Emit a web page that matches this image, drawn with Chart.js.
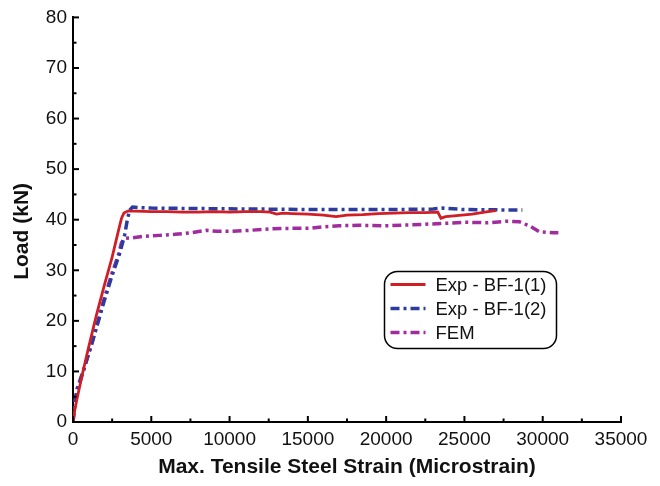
<!DOCTYPE html>
<html>
<head>
<meta charset="utf-8">
<script src="https://cdn.jsdelivr.net/npm/chart.js@4.4.0/dist/chart.umd.min.js"></script>
<style>
  html, body { margin: 0; padding: 0; background: #fff; }
  #wrap { width: 660px; height: 486px; }
</style>
</head>
<body>
<div id="wrap"><canvas id="c" width="660" height="486"></canvas></div>
<script>
// Load vs. maximum tensile steel strain, beam BF-1
const seriesNames = ['Exp - BF-1(1)', 'Exp - BF-1(2)', 'FEM'];

const exp1Strain = [0, 120, 250, 600, 1000, 1500, 2000, 2500, 2900, 3100, 3250, 3500, 4000, 5000, 6000, 7000, 8000, 9000, 10000, 11000, 12000, 12600, 13000, 13400, 14000, 15000, 16000, 16800, 17500, 18500, 19500, 20500, 21500, 22500, 23300, 23500, 23800, 24500, 25500, 26500, 27000];
const exp1Load   = [0, 2.5, 4.5, 9.5, 14.8, 21.2, 27.0, 32.6, 37.8, 40.3, 41.3, 41.7, 41.7, 41.6, 41.6, 41.5, 41.5, 41.6, 41.5, 41.6, 41.6, 41.5, 41.1, 41.3, 41.2, 41.1, 40.9, 40.6, 40.9, 41.0, 41.2, 41.3, 41.4, 41.4, 41.5, 40.3, 40.6, 40.8, 41.1, 41.6, 41.8];

const exp2Strain = [0, 100, 250, 700, 1250, 2000, 2500, 3000, 3300, 3500, 3650, 3800, 4200, 5000, 8000, 12000, 16000, 20000, 23000, 23600, 25000, 28700];
const exp2Load   = [0, 3.0, 6.0, 10.5, 16.0, 24.0, 29.0, 33.5, 37.0, 40.5, 42.0, 42.5, 42.4, 42.3, 42.2, 42.1, 42.0, 42.0, 42.1, 42.3, 42.0, 41.9];

const femStrain = [0, 100, 250, 700, 1250, 2000, 2500, 2900, 3100, 3300, 3700, 4500, 5500, 6500, 7500, 8500, 9200, 10000, 11300, 12600, 14000, 15100, 16000, 17000, 18300, 19800, 21000, 22500, 23900, 25000, 26500, 27700, 28500, 29200, 29800, 30700, 31000];
const femLoad   = [0, 3.5, 6.5, 10.5, 16.0, 24.5, 29.5, 33.0, 35.5, 36.3, 36.4, 36.7, 36.9, 37.1, 37.4, 37.9, 37.7, 37.7, 37.9, 38.2, 38.3, 38.3, 38.6, 38.8, 38.9, 38.8, 38.9, 39.1, 39.3, 39.5, 39.4, 39.7, 39.6, 38.7, 37.6, 37.4, 37.4];

const xTickValues = [0, 5000, 10000, 15000, 20000, 25000, 30000, 35000];
const yTickValues = [0, 10, 20, 30, 40, 50, 60, 70, 80];

const pairs = (xs, ys) => xs.map((x, i) => ({ x: x, y: ys[i] }));

const FONT = "'Liberation Sans', Arial, Helvetica, sans-serif";

// inward-pointing major and minor tick marks on both axes
const innerTicks = {
  id: 'innerTicks',
  afterDraw(chart) {
    const { ctx, chartArea, scales } = chart;
    const xs = scales.x, ys = scales.y;
    ctx.save();
    ctx.strokeStyle = '#000';
    ctx.lineWidth = 2;
    const xStep = (xTickValues[1] - xTickValues[0]) / 2;
    for (let v = xs.min; v <= xs.max + 1e-6; v += xStep) {
      const px = xs.getPixelForValue(v);
      const major = xTickValues.includes(v);
      const len = major ? 6 : 3.5;
      ctx.beginPath();
      ctx.moveTo(px, chartArea.bottom);
      ctx.lineTo(px, chartArea.bottom - len);
      ctx.stroke();
    }
    const yStep = (yTickValues[1] - yTickValues[0]) / 2;
    for (let v = ys.min; v <= ys.max + 1e-6; v += yStep) {
      const py = ys.getPixelForValue(v);
      const major = yTickValues.includes(v);
      const len = major ? 6 : 3.5;
      ctx.beginPath();
      ctx.moveTo(chartArea.left, py);
      ctx.lineTo(chartArea.left + len, py);
      ctx.stroke();
    }
    ctx.restore();
  }
};

// framed legend with rounded corners inside the plot area
const boxedLegend = {
  id: 'boxedLegend',
  afterDraw(chart) {
    const { ctx } = chart;
    const bx = 384.5, by = 271.5, bw = 172, bh = 77, r = 13;
    ctx.save();
    ctx.fillStyle = '#fff';
    ctx.strokeStyle = '#000';
    ctx.lineWidth = 1.5;
    ctx.beginPath();
    ctx.roundRect(bx, by, bw, bh, r);
    ctx.fill();
    ctx.stroke();
    ctx.font = '18.5px ' + FONT;
    ctx.textBaseline = 'middle';
    ctx.textAlign = 'left';
    chart.data.datasets.forEach((ds, i) => {
      const cy = by + 13 + i * 24;
      ctx.strokeStyle = ds.borderColor;
      ctx.lineWidth = ds.borderWidth;
      ctx.setLineDash(ds.borderDash || []);
      ctx.beginPath();
      ctx.moveTo(bx + 6, cy);
      ctx.lineTo(bx + 41, cy);
      ctx.stroke();
      ctx.setLineDash([]);
      ctx.fillStyle = '#111';
      ctx.fillText(ds.label, bx + 51, cy + 1);
    });
    ctx.restore();
  }
};

new Chart(document.getElementById('c'), {
  type: 'scatter',
  data: {
    datasets: [
      {
        label: seriesNames[0],
        data: pairs(exp1Strain, exp1Load),
        borderColor: 'rgb(208,30,38)',
        backgroundColor: 'rgb(208,30,38)',
        borderWidth: 2.8,
        showLine: true,
        pointRadius: 0,
        tension: 0
      },
      {
        label: seriesNames[1],
        data: pairs(exp2Strain, exp2Load),
        borderColor: 'rgb(44,60,158)',
        backgroundColor: 'rgb(44,60,158)',
        borderWidth: 3.5,
        borderDash: [9, 4, 3, 4],
        showLine: true,
        pointRadius: 0,
        tension: 0
      },
      {
        label: seriesNames[2],
        data: pairs(femStrain, femLoad),
        borderColor: 'rgb(160,44,158)',
        backgroundColor: 'rgb(160,44,158)',
        borderWidth: 3.5,
        borderDash: [9, 4, 3, 4],
        showLine: true,
        pointRadius: 0,
        tension: 0
      }
    ]
  },
  options: {
    responsive: false,
    animation: false,
    devicePixelRatio: 1,
    layout: { padding: { top: 15, right: 39, left: 0, bottom: 0 } },
    plugins: {
      legend: { display: false },
      tooltip: { enabled: false }
    },
    scales: {
      x: {
        type: 'linear',
        min: 0,
        max: 35000,
        afterFit: (s) => { s.height = 64; },
        afterBuildTicks: (s) => { s.ticks = xTickValues.map(v => ({ value: v })); },
        grid: { display: true, drawOnChartArea: false, drawTicks: false },
        border: { display: true, color: '#000', width: 2 },
        ticks: {
          padding: 6,
          color: '#111',
          maxRotation: 0,
          font: { family: FONT, size: 19 },
          callback: (v) => String(v)
        },
        title: {
          display: true,
          text: 'Max. Tensile Steel Strain (Microstrain)',
          color: '#111',
          font: { family: FONT, size: 21, weight: 'bold' },
          padding: { top: 0, bottom: 6 }
        }
      },
      y: {
        type: 'linear',
        min: 0,
        max: 80,
        afterFit: (s) => { s.width = 73; },
        afterBuildTicks: (s) => { s.ticks = yTickValues.map(v => ({ value: v })); },
        grid: { display: true, drawOnChartArea: false, drawTicks: false },
        border: { display: true, color: '#000', width: 2 },
        ticks: {
          padding: 6,
          color: '#111',
          font: { family: FONT, size: 19 },
          callback: (v) => String(v)
        },
        title: {
          display: true,
          text: 'Load (kN)    ',
          color: '#111',
          font: { family: FONT, size: 21, weight: 'bold' },
          padding: { top: 10, bottom: 0 }
        }
      }
    }
  },
  plugins: [innerTicks, boxedLegend]
});
</script>
</body>
</html>
